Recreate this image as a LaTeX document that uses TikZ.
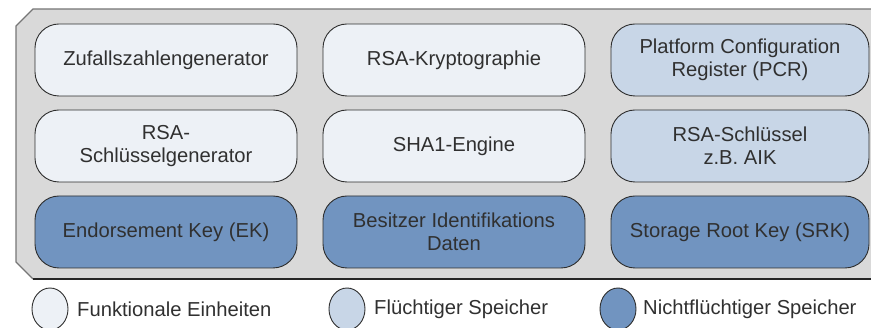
\documentclass[tikz,border=0pt]{standalone}
\usepackage{fontspec}
\setmainfont{Liberation Sans}
\usetikzlibrary{shapes.geometric}
\definecolor{txt}{HTML}{303030}
\definecolor{fnfill}{HTML}{EDF1F6}
\definecolor{volfill}{HTML}{C8D6E7}
\definecolor{nvfill}{HTML}{7194C0}
\definecolor{chipfill}{HTML}{D9D9D9}
\definecolor{chipline}{HTML}{767676}
\definecolor{boxline}{HTML}{2E2E2E}
\tikzset{
  unit/.style={draw=boxline, line width=0.9pt, rounded corners=24pt,
    minimum height=72pt, align=center, text=txt,
    font=\fontsize{20.2}{22.8}\selectfont, inner sep=0pt},
  fn/.style={unit, fill=fnfill},
  vol/.style={unit, fill=volfill},
  nv/.style={unit, fill=nvfill},
  legendmark/.style={ellipse, draw=boxline, line width=0.9pt,
    minimum width=36pt, minimum height=42pt, inner sep=0pt},
  legendtext/.style={anchor=west, text=txt, inner sep=0pt,
    font=\fontsize{20.2}{22.8}\selectfont},
}
\begin{document}
\begin{tikzpicture}[x=1pt, y=-1pt]
\useasboundingbox (0,0) rectangle (871,328);
% chip outline with bevelled left corners
\fill[chipfill] (880,9) -- (33,9) -- (16,26) -- (16,262) -- (33,279) -- (880,279) -- cycle;
\draw[chipline, line width=1.2pt] (880,9) -- (33,9) -- (16,26) -- (16,262) -- (33,279);
\draw[black!85, line width=1.6pt] (33,279) -- (880,279);

% functional units and memories
\node[fn,  minimum width=262pt] (rng)  at (166,60)  {Zufallszahlengenerator};
\node[fn,  minimum width=262pt] (rsa)  at (454,60)  {RSA-Kryptographie};
\node[vol, minimum width=258pt] (pcr)  at (740,60)  {Platform Configuration\\Register (PCR)};
\node[fn,  minimum width=262pt] (kgen) at (166,146) {RSA-\\Schlüsselgenerator};
\node[fn,  minimum width=262pt] (sha)  at (454,146) {SHA1-Engine};
\node[vol, minimum width=258pt] (aik)  at (740,146) {RSA-Schlüssel\\z.B. AIK};
\node[nv,  minimum width=262pt] (ek)   at (166,232) {Endorsement Key (EK)};
\node[nv,  minimum width=262pt] (own)  at (454,232) {Besitzer Identifikations\\Daten};
\node[nv,  minimum width=258pt] (srk)  at (740,232) {Storage Root Key (SRK)};

% legend
\node[legendmark, fill=fnfill]  (lg1) at (50,309)  {};
\node[legendmark, fill=volfill] (lg2) at (347,309) {};
\node[legendmark, fill=nvfill]  (lg3) at (618,309) {};
\node[legendtext] (lt1) at (77,309)  {Funktionale Einheiten};
\node[legendtext] (lt2) at (374,309) {Flüchtiger Speicher};
\node[legendtext] (lt3) at (643,309) {Nichtflüchtiger Speicher};
\end{tikzpicture}
\end{document}
